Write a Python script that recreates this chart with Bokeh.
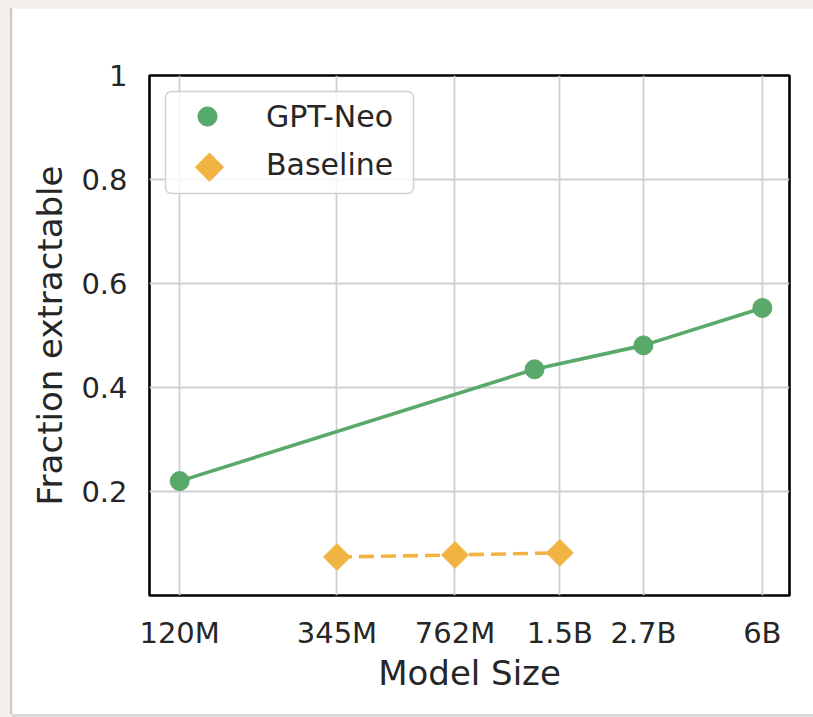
import numpy as np
from bokeh.plotting import figure
from bokeh.models import FixedTicker, Legend, LegendItem, Label, BoxAnnotation
from bokeh.embed import file_html
from bokeh.resources import INLINE

# Model sizes in millions of parameters
neo_sizes = [120, 1300, 2700, 6000]
neo_frac = [0.220, 0.435, 0.481, 0.553]
base_sizes = [345, 762, 1540]
base_frac = [0.074, 0.078, 0.082]

x_tick_values = [120, 345, 762, 1540, 2700, 6000]
x_tick_labels = ["120M", "345M", "762M", "1.5B", "2.7B", "6B"]
y_tick_values = [0.2, 0.4, 0.6, 0.8, 1.0]
y_tick_labels = ["0.2", "0.4", "0.6", "0.8", "1"]

GREEN = "#59a96a"
ORANGE = "#f1b443"
TEXT = "#262626"
FONT = "DejaVu Sans"

p = figure(width=801, height=706, x_axis_type="log", x_range=(98, 7200), y_range=(0, 1),
           output_backend="svg", toolbar_location=None,
           min_border_left=137, min_border_right=24, min_border_top=67, min_border_bottom=119)
p.margin = (8, 0, 3, 12)
p.styles = {"box-shadow": "-2px 0px 0px #c8c8c8, 0px 3px 0px #d9d9d9"}
p.background_fill_color = "white"
p.border_fill_color = "white"
p.outline_line_color = "black"
p.outline_line_width = 2.6

# axes
p.xaxis.ticker = FixedTicker(ticks=x_tick_values, minor_ticks=[])
p.xaxis.major_label_overrides = {v: l for v, l in zip(x_tick_values, x_tick_labels)}
p.yaxis.ticker = FixedTicker(ticks=y_tick_values, minor_ticks=[])
p.yaxis.major_label_overrides = {v: l for v, l in zip(y_tick_values, y_tick_labels)}
p.xaxis.axis_label = "Model Size"
p.yaxis.axis_label = "Fraction extractable"
for ax in (p.xaxis, p.yaxis):
    ax.axis_line_color = None
    ax.major_tick_line_color = None
    ax.minor_tick_line_color = None
    ax.major_tick_out = 0
    ax.major_tick_in = 0
    ax.minor_tick_out = 0
    ax.minor_tick_in = 0
    ax.major_label_text_font = FONT
    ax.major_label_text_font_size = "29px"
    ax.major_label_text_color = TEXT
    ax.axis_label_text_font = FONT
    ax.axis_label_text_font_size = "34px"
    ax.axis_label_text_font_style = "normal"
    ax.axis_label_text_color = TEXT
p.xaxis.major_label_standoff = 20
p.yaxis.major_label_standoff = 22
p.xaxis.axis_label_standoff = 0
p.yaxis.axis_label_standoff = 8

p.xgrid.ticker = FixedTicker(ticks=x_tick_values, minor_ticks=[])
p.ygrid.ticker = FixedTicker(ticks=y_tick_values, minor_ticks=[])
for g in (p.xgrid, p.ygrid):
    g.grid_line_color = "#d0d0d0"
    g.grid_line_width = 1.8

# data
p.line(neo_sizes, neo_frac, line_color=GREEN, line_width=3.6)
neo_pts = p.scatter(neo_sizes, neo_frac, marker="circle", size=19,
                    fill_color=GREEN, line_color=GREEN)
p.line(base_sizes, base_frac, line_color=ORANGE, line_width=3.6, line_dash="15 7")
base_pts = p.scatter(base_sizes, base_frac, marker="square", size=19, angle=np.pi / 4,
                     fill_color=ORANGE, line_color=ORANGE)
# invisible stand-in so the legend reserves a row; the diamond key is drawn as a label
base_key = p.scatter(base_sizes[:1], base_frac[:1], marker="square", size=1,
                     fill_alpha=0, line_alpha=0)

# legend frame (semi-transparent box with rounded corners)
legend_box = BoxAnnotation(left=16, right=264, top=504, bottom=402,
                           left_units="screen", right_units="screen",
                           top_units="screen", bottom_units="screen",
                           fill_color="white", fill_alpha=0.8,
                           line_color="#cccccc", line_width=1.5, line_alpha=0.9,
                           border_radius=6, level="annotation")
p.add_layout(legend_box)

diamond_key = Label(x=60, y=432, x_units="screen", y_units="screen", text="\u25c6",
                    text_color=ORANGE, text_font=FONT, text_font_size="38px",
                    text_align="center", text_baseline="middle", level="annotation")
p.add_layout(diamond_key)

legend = Legend(items=[LegendItem(label="GPT-Neo", renderers=[neo_pts]),
                       LegendItem(label="Baseline", renderers=[base_key])],
                location="top_left", margin=17, padding=3,
                glyph_width=82, glyph_height=48, label_standoff=18, spacing=0,
                label_text_font=FONT, label_text_font_size="30px", label_text_color=TEXT,
                background_fill_alpha=0, border_line_color=None)
p.add_layout(legend)

html = file_html(p, INLINE)
html = html.replace("</head>", "<style>html, body { background-color: #f3f0eb; margin: 0; }</style></head>", 1)
open("out.html", "w").write(html)
